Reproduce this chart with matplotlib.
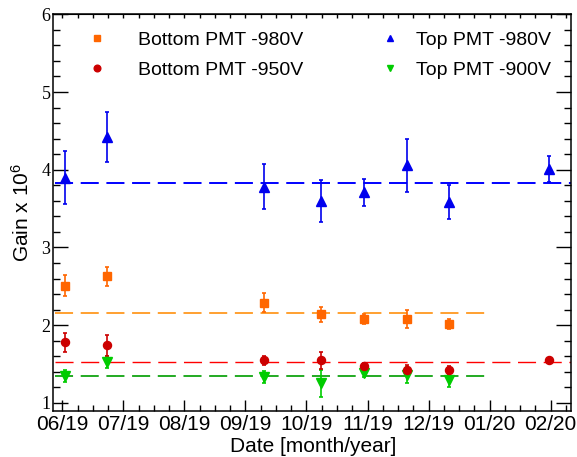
import matplotlib.pyplot as plt
from matplotlib.lines import Line2D
import numpy as np

plt.rcParams['font.family'] = ['Liberation Sans', 'DejaVu Sans']
plt.rcParams['mathtext.fontset'] = 'custom'
plt.rcParams['mathtext.rm'] = 'Liberation Sans'
plt.rcParams['mathtext.it'] = 'Liberation Sans:italic'
plt.rcParams['lines.scale_dashes'] = False

# x axis: months since 06/19
month_labels = ["06/19", "07/19", "08/19", "09/19", "10/19", "11/19", "12/19", "01/20", "02/20"]

# measurement dates (months since 06/19)
dates = [0.04, 0.74, 3.31, 4.24, 4.95, 5.64, 6.34, 7.98]
dates_short = dates[:7]

# gains (x 10^6)
top_980 = [3.90, 4.42, 3.78, 3.60, 3.71, 4.06, 3.59, 4.01]
top_980_err = [0.34, 0.32, 0.29, 0.27, 0.17, 0.34, 0.22, 0.17]
bot_950 = [1.78, 1.74, 1.55, 1.55, 1.47, 1.42, 1.42, 1.55]
bot_950_err = [0.12, 0.13, 0.06, 0.11, 0.04, 0.07, 0.06, 0.02]
bot_980 = [2.51, 2.63, 2.29, 2.14, 2.08, 2.08, 2.01]
bot_980_err = [0.14, 0.12, 0.12, 0.10, 0.07, 0.11, 0.065]
top_900 = [1.35, 1.53, 1.33, 1.25, 1.38, 1.36, 1.29]
top_900_err = [0.08, 0.08, 0.08, 0.18, 0.05, 0.10, 0.08]

# average gains (dashed lines)
avg_top_980 = 3.83
avg_bot_980 = 2.16
avg_bot_950 = 1.53
avg_top_900 = 1.35

xmin, xmax = -0.147, 8.328
ymin, ymax = 0.9, 6.0

fig = plt.figure(figsize=(5.77, 4.57), dpi=100)
ax = fig.add_axes([53.3 / 577, 1 - 410.7 / 457, 517.4 / 577, 396.4 / 457])

dash = (13, 5.5)
ax.plot([-0.12, xmax], [avg_top_980] * 2, color='#0000ff', lw=1.4, dashes=dash, zorder=1)
ax.plot([-0.12, 6.94], [avg_bot_980] * 2, color='#ffa030', lw=1.4, dashes=dash, zorder=1)
ax.plot([-0.12, xmax], [avg_bot_950] * 2, color='#ff0000', lw=1.0, dashes=dash, zorder=1)
ax.plot([-0.12, 6.94], [avg_top_900] * 2, color='#22aa22', lw=1.4, dashes=dash, zorder=1)

eb = dict(elinewidth=1.2, capsize=1.3, capthick=1.2, linestyle='none', zorder=3)
ax.errorbar(dates_short, top_900, yerr=top_900_err, fmt='v', color='#00cc00', ms=6.5, **eb)
ax.errorbar(dates, top_980, yerr=top_980_err, fmt='^', color='#0000ee', ms=6.5, **eb)
ax.errorbar(dates_short, bot_980, yerr=bot_980_err, fmt='s', color='#ff6600', ms=5.5, **eb)
ax.errorbar(dates, bot_950, yerr=bot_950_err, fmt='o', color='#cc0000', ms=5.8, **eb)

ax.set_xticks(np.arange(len(month_labels)))
ax.set_xticklabels(month_labels, fontsize=15)
ax.set_xticks(np.arange(0, 8.5, 0.25), minor=True)
ax.set_yticks([1, 2, 3, 4, 5, 6])
ax.set_yticklabels(["1", "2", "3", "4", "5", "6"], fontsize=13, fontfamily='Liberation Serif')
ax.set_yticks(np.arange(1.0, 6.0, 0.2), minor=True)
ax.set_xlim(xmin, xmax)
ax.set_ylim(ymin, ymax)

ax.tick_params(axis='x', which='major', direction='in', length=7.7, width=1, pad=3, top=False)
ax.tick_params(axis='x', which='minor', direction='in', length=4.1, width=1, top=False)
ax.tick_params(axis='y', which='major', direction='in', length=10.8, width=1, pad=2, right=True)
ax.tick_params(axis='y', which='minor', direction='in', length=5, width=1, right=True)

top = ax.secondary_xaxis('top')
top.set_xticks(np.arange(len(month_labels)))
top.set_xticks(np.arange(0, 8.5, 0.25), minor=True)
top.tick_params(which='both', direction='in', length=3, width=1, labeltop=False)
ax.set_xlim(xmin, xmax)

for s in ax.spines.values():
    s.set_linewidth(1.1)

fig.text(22 / 577, 1 - 212 / 457, r'Gain x 10$^{6}$', rotation=90, ha='center', va='center', fontsize=15)
fig.text(313 / 577, 1 - 447 / 457, 'Date [month/year]', ha='center', va='center', fontsize=15)

# legend, two columns
h1 = [Line2D([], [], marker='s', color='#ff6600', ls='none', ms=4.5),
      Line2D([], [], marker='o', color='#cc0000', ls='none', ms=4.8)]
h2 = [Line2D([], [], marker='^', color='#0000ee', ls='none', ms=5),
      Line2D([], [], marker='v', color='#00cc00', ls='none', ms=5)]
leg1 = ax.legend(h1, ['Bottom PMT -980V', 'Bottom PMT -950V'], loc='upper left',
                 bbox_to_anchor=((77.3 - 53.3) / 517.4, 0.958), frameon=False, fontsize=14,
                 borderpad=0, borderaxespad=0, handlelength=2.0, handletextpad=1.1,
                 labelspacing=0.65)
ax.add_artist(leg1)
ax.legend(h2, ['Top PMT -980V', 'Top PMT -900V'], loc='upper left',
          bbox_to_anchor=((370.2 - 53.3) / 517.4, 0.958), frameon=False, fontsize=14,
          borderpad=0, borderaxespad=0, handlelength=2.0, handletextpad=0.35,
          labelspacing=0.65)

plt.savefig('out.png', dpi=100)
